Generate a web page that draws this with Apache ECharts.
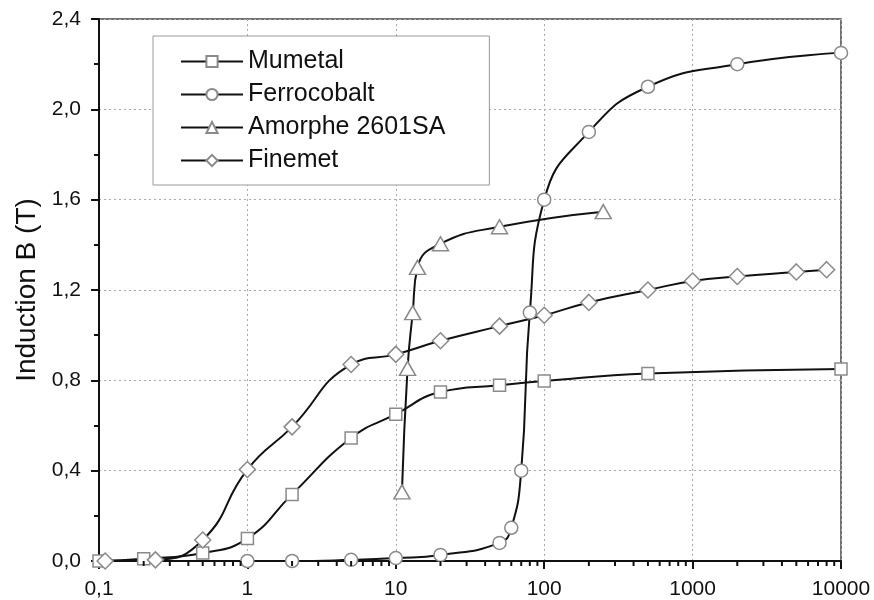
<!DOCTYPE html>
<html>
<head>
<meta charset="utf-8">
<script src="https://cdn.jsdelivr.net/npm/echarts@6/dist/echarts.min.js"></script>
<style>html,body{margin:0;padding:0;background:#fff}#c{width:874px;height:600px}</style>
</head>
<body>
<div id="c"></div>
<script>
// ---- data ----
var seriesNames = ['Mumetal', 'Ferrocobalt', 'Amorphe 2601SA', 'Finemet'];
var mumetalH = [0.1, 0.2, 0.5, 1, 2, 5, 10, 20, 50, 100, 500, 10000];
var mumetalB = [0, 0.01, 0.035, 0.1, 0.295, 0.545, 0.65, 0.748, 0.778, 0.797, 0.83, 0.85];
var ferroH = [1, 2, 5, 10, 20, 50, 60, 70, 80, 100, 200, 500, 2000, 10000];
var ferroB = [0, 0, 0.005, 0.013, 0.027, 0.08, 0.147, 0.40, 1.10, 1.60, 1.90, 2.10, 2.20, 2.25];
var amorH = [11, 12, 13, 14, 20, 50, 250];
var amorB = [0.306, 0.853, 1.10, 1.30, 1.405, 1.48, 1.547];
var fineH = [0.11, 0.24, 0.5, 1, 2, 5, 10, 20, 50, 100, 200, 500, 1000, 2000, 5000, 8000];
var fineB = [0, 0.005, 0.093, 0.405, 0.594, 0.87, 0.915, 0.975, 1.04, 1.088, 1.145, 1.20, 1.24, 1.26, 1.28, 1.29];
var xTickLabels = ['0,1', '1', '10', '100', '1000', '10000'];
var yTickLabels = ['0,0', '0,4', '0,8', '1,2', '1,6', '2,0', '2,4'];
var xMinorTicks = [0.2,0.3,0.4,0.5,0.6,0.7,0.8,0.9, 2,3,4,5,6,7,8,9, 20,30,40,50,60,70,80,90, 200,300,400,500,600,700,800,900, 2000,3000,4000,5000,6000,7000,8000,9000];

function pairs(xs, ys){ return xs.map(function(x,i){ return [x, ys[i]]; }); }

var chart = echarts.init(document.getElementById('c'), null, {renderer:'canvas'});
var FONT = 'Liberation Sans, Arial, sans-serif';
var markerStyle = {color:'#ffffff', borderColor:'#8a8a8a', borderWidth:1.5};
function lineSeries(name, data, symbol, size){
  return {
    name: name, type: 'line', data: data, symbol: symbol, symbolSize: size,
    showAllSymbol: true, smooth: 0.5,
    lineStyle: {color:'#111', width:2},
    itemStyle: markerStyle,
    z: 3
  };
}

var option = {
  animation: false,
  backgroundColor: '#fff',
  grid: {left: 99, right: 33, top: 19, bottom: 39, show: true, borderColor: '#444', borderWidth: 1.5, backgroundColor: 'transparent'},
  legend: {
    data: seriesNames,
    orient: 'vertical', left: 153, top: 36,
    padding: [13, 44, 12, 27],
    itemWidth: 62, itemHeight: 14, itemGap: 8,
    backgroundColor: '#fff', borderColor: '#999', borderWidth: 1,
    textStyle: {fontFamily: FONT, fontSize: 25, lineHeight: 25, color: '#111'}
  },
  xAxis: {
    type: 'log', logBase: 10, min: 0.1, max: 10000,
    axisLine: {show: true, onZero: false, lineStyle: {color:'#111', width: 2}},
    axisTick: {show: true, length: 8, lineStyle: {color:'#111', width: 2}},
    axisLabel: {fontFamily: FONT, fontSize: 21, color: '#111', margin: 18,
      formatter: function(v, i){ return xTickLabels[i] !== undefined ? xTickLabels[i] : ''; }},
    splitLine: {show: true, lineStyle: {color:'#aaa', type: [2, 3], width: 1}}
  },
  yAxis: {
    type: 'value', min: 0, max: 2.4, interval: 0.4,
    name: 'Induction B (T)', nameLocation: 'middle', nameGap: 48,
    nameTextStyle: {fontFamily: FONT, fontSize: 28, color: '#111'},
    axisLine: {show: true, lineStyle: {color:'#111', width: 2}},
    axisTick: {show: true, length: 8, lineStyle: {color:'#111', width: 2}},
    minorTick: {show: true, splitNumber: 2, length: 5, lineStyle: {color:'#111', width: 2}},
    axisLabel: {fontFamily: FONT, fontSize: 21, color: '#111', margin: 18,
      formatter: function(v, i){ return yTickLabels[i]; }},
    splitLine: {show: true, lineStyle: {color:'#aaa', type: [2, 3], width: 1}}
  },
  series: [
    lineSeries(seriesNames[0], pairs(mumetalH, mumetalB), 'rect', 12),
    lineSeries(seriesNames[1], pairs(ferroH, ferroB), 'circle', 13),
    lineSeries(seriesNames[2], pairs(amorH, amorB), 'triangle', [16, 14]),
    lineSeries(seriesNames[3], pairs(fineH, fineB), 'diamond', 16),
    {
      type: 'custom', silent: true, clip: false, z: 5,
      data: xMinorTicks.map(function(v){ return [v, 0]; }),
      renderItem: function(params, api){
        var p = api.coord([api.value(0), 0]);
        return {type:'line', shape:{x1:p[0], y1:p[1], x2:p[0], y2:p[1]+5}, style:{stroke:'#111', lineWidth:2}};
      }
    }
  ]
};
chart.setOption(option);
</script>
</body>
</html>
